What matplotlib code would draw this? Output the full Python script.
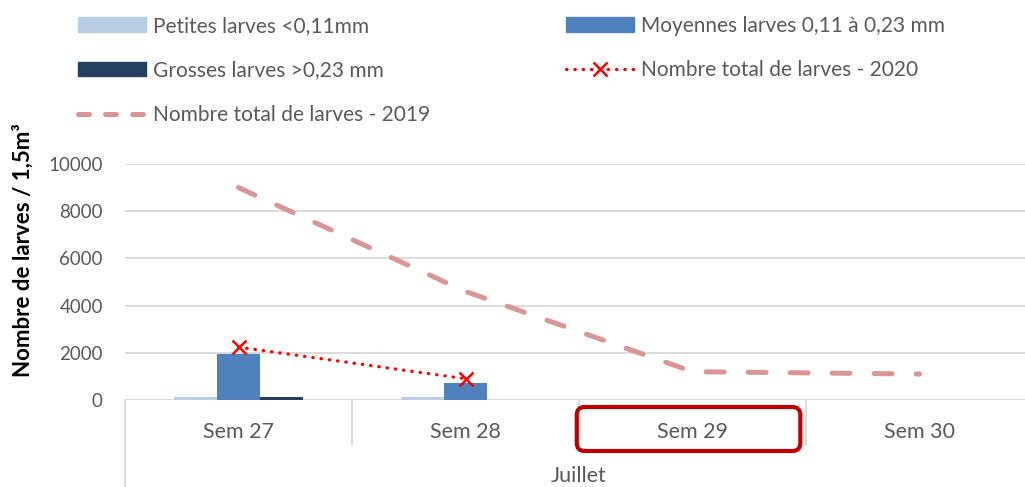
import matplotlib
matplotlib.use("Agg")
import matplotlib.pyplot as plt
from matplotlib.patches import Patch, FancyBboxPatch
from matplotlib.lines import Line2D
from matplotlib.transforms import blended_transform_factory, IdentityTransform
import numpy as np

plt.rcParams['font.family'] = ['Lato', 'DejaVu Sans']

semaines = ["Sem 27", "Sem 28", "Sem 29", "Sem 30"]
mois = "Juillet"
petites = [130, 120, 0, 0]
moyennes = [1950, 730, 0, 0]
grosses = [130, 0, 0, 0]
total_2020 = [2240, 900]
total_2019 = [9000, 4600, 1200, 1100]
yticks = [0, 2000, 4000, 6000, 8000, 10000]

c_pet = "#B9CDE5"
c_moy = "#4F81BD"
c_gro = "#254061"
c_2019 = "#D99694"
txt = "#595959"
grid_c = "#D9D9D9"

fig = plt.figure(figsize=(10.25, 4.87), dpi=100)
ax = fig.add_axes([125/1025, 1-400/487, 908/1025, 236/487])

x = np.arange(len(semaines))
w = 0.19
ax.bar(x - w, petites, w, color=c_pet, zorder=2)
ax.bar(x, moyennes, w, color=c_moy, zorder=2)
ax.bar(x + w, grosses, w, color=c_gro, zorder=2)

ax.plot(x, total_2019, color=c_2019, lw=3.6, dashes=(3.6, 4.8),
        dash_capstyle='round', zorder=3)
ax.plot(x[:len(total_2020)], total_2020, color="red", lw=2.4, ls=(0, (0.1, 2.4)),
        dash_capstyle='round', marker='x', ms=10, mew=1.8, zorder=4)

ax.set_xlim(-0.5, 3.5)
ax.set_ylim(0, 10000)
ax.set_yticks(yticks)
ax.set_yticklabels([str(v) for v in yticks], fontsize=13.5, color=txt)
ax.tick_params(axis='y', length=0, pad=16)
ax.set_xticks([])
ax.yaxis.grid(True, color=grid_c, lw=1.3, zorder=0)
for s in ax.spines.values():
    s.set_visible(False)
ax.axhline(0, color=grid_c, lw=1.5, zorder=1)

# axe des catégories à deux niveaux
tr = blended_transform_factory(ax.transData, ax.transAxes)
for i, lab in enumerate(semaines):
    ax.text(i, -0.136, lab, transform=tr, ha='center', va='center',
            fontsize=15.5, color=txt)
for b in [0.5, 1.5, 2.5]:
    ax.plot([b, b], [0, -0.19], transform=tr, color=grid_c, lw=1.3, clip_on=False)
ax.plot([-0.5, -0.5], [0, -0.4], transform=tr, color=grid_c, lw=1.3, clip_on=False)
ax.text(1.5, -0.322, mois, transform=tr, ha='center', va='center',
        fontsize=15.5, color=txt)

# cadre rouge autour de Sem 29
fig.canvas.draw()
x0 = ax.transData.transform((1.49, 0))[0]
x1 = ax.transData.transform((2.475, 0))[0]
box = FancyBboxPatch((x0, 36), x1 - x0, 44, boxstyle="round,pad=0,rounding_size=8",
                     transform=IdentityTransform(), fill=False, ec="#C00000", lw=3)
fig.add_artist(box)

handles = [
    Patch(color=c_pet),
    Patch(color=c_gro),
    Line2D([], [], color=c_2019, lw=3.6, dashes=(2.2, 3.2), dash_capstyle='round'),
    Patch(color=c_moy),
    Line2D([], [], color="red", lw=2.4, ls=(0, (0.1, 2.4)), dash_capstyle='round',
           marker='x', ms=10, mew=1.8),
]
labels = [
    "Petites larves <0,11mm",
    "Grosses larves >0,23 mm",
    "Nombre total de larves - 2019",
    "Moyennes larves 0,11 à 0,23 mm",
    "Nombre total de larves - 2020",
]
leg = fig.legend(handles, labels, ncol=2, loc='upper left',
                 bbox_to_anchor=(59/1025, 1 + 3/487), frameon=False, fontsize=15,
                 handlelength=3.27, handleheight=0.7, handletextpad=0.34,
                 columnspacing=6.5, labelspacing=1.18, labelcolor=txt)

fig.text(23/1025, 1-250/487, "Nombre de larves / 1,5m³", rotation=90,
         ha='center', va='center', fontsize=16, fontweight='bold')

fig.savefig("out.png", dpi=100)
